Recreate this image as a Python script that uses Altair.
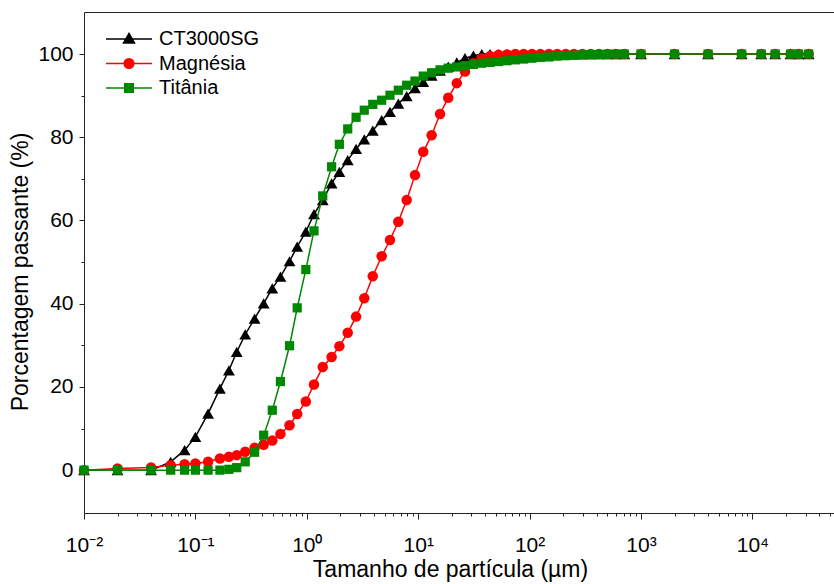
import altair as alt
import pandas as pd

# ---- data ----
SERIES = ["CT3000SG", "Magnésia", "Titânia"]
COLORS = ["#000000", "#FF0000", "#008800"]

SIZE_UM = [0.01, 0.02, 0.04, 0.06, 0.08, 0.10, 0.13, 0.166, 0.20, 0.235, 0.28, 0.34,
           0.41, 0.49, 0.58, 0.70, 0.82, 0.98, 1.16, 1.39, 1.67, 1.96, 2.33, 2.77,
           3.28, 3.91, 4.70, 5.58, 6.63, 7.88, 9.36, 11.1, 13.2, 15.7, 18.6, 22.2,
           26.3, 31.3, 37.2, 44.2, 52.6, 62.6, 74.4, 88.5, 105, 125, 149, 177,
           211, 250, 298, 354, 421, 501, 595, 708, 1000, 2000, 4000, 8000,
           12000, 16000, 22000, 26000, 32000]

CT3000SG = [0, 0, 0, 2.0, 4.8, 8.0, 13.6, 19.6, 24.0, 28.4, 32.6, 36.4,
            40.1, 43.7, 46.5, 50.2, 53.7, 57.3, 61.5, 64.9, 68.9, 71.7, 74.5, 77.2,
            79.5, 81.6, 84.1, 86.1, 88.1, 89.9, 91.8, 93.3, 94.8, 96.0, 97.0, 98.0,
            99.0, 99.6, 100, 100, 100, 100, 100, 100, 100, 100, 100, 100,
            100, 100, 100, 100, 100, 100, 100, 100, 100, 100, 100, 100,
            100, 100, 100, 100, 100]

MAGNESIA = [0, 0.4, 0.65, 1.2, 1.4, 1.6, 2.0, 2.8, 3.2, 3.6, 4.4, 5.4,
            6.1, 7.1, 8.7, 10.8, 13.5, 16.5, 20.6, 24.8, 27.2, 29.8, 33.0, 36.9,
            41.3, 46.6, 51.4, 55.3, 59.7, 64.9, 70.9, 76.5, 80.5, 85.6, 89.5, 93.0,
            95.8, 97.8, 98.9, 99.5, 99.8, 99.9, 100, 100, 100, 100, 100, 100,
            100, 100, 100, 100, 100, 100, 100, 100, 100, 100, 100, 100,
            100, 100, 100, 100, 100]

TITANIA = [0, 0, 0, 0, 0, 0, 0, 0, 0.2, 0.6, 2.0, 4.3,
           8.4, 14.4, 21.3, 29.9, 39.0, 48.2, 57.5, 65.9, 72.9, 78.3, 82.0, 84.8,
           86.5, 87.9, 88.9, 90.1, 91.3, 92.5, 93.5, 94.7, 95.5, 96.2, 96.6, 96.9,
           97.2, 97.5, 97.8, 98.0, 98.2, 98.4, 98.6, 98.8, 99.0, 99.2, 99.3, 99.5,
           99.6, 99.7, 99.8, 99.85, 99.9, 99.95, 100, 100, 100, 100, 100, 100,
           100, 100, 100, 100, 100]

X_MAJOR = [0.01, 0.1, 1, 10, 100, 1000, 10000]
Y_MAJOR = [0, 20, 40, 60, 80, 100]
Y_MINOR = [10, 30, 50, 70, 90]

# ---- styling ----
FONT = "Liberation Sans"
X_DOMAIN = [0.01, 54000]
Y_DOMAIN = [-10.3, 110.1]
X_MINOR = [k * 10.0 ** d for d in range(-2, 5) for k in range(2, 10) if k * 10.0 ** d < X_DOMAIN[1]]

SHAPES = ["triangle-up", "circle", "square"]
SIZES = [140, 110, 85]
LEGEND_PATHS = [
    "M-2.3,0H2.3M0,-0.55L0.55,0.4L-0.55,0.4Z",
    "M-2.3,0H2.3M0.48,0A0.48,0.48,0,1,1,-0.48,0A0.48,0.48,0,1,1,0.48,0Z",
    "M-2.3,0H2.3M-0.43,-0.43H0.43V0.43H-0.43Z",
]

xscale = alt.Scale(type="log", domain=X_DOMAIN, nice=False)
yscale = alt.Scale(domain=Y_DOMAIN, nice=False, zero=False)

sup = "['⁻²','⁻¹','⁰','¹','²','³','⁴'][round(log(datum.value)/LN10)+2]"

ax_x_main = alt.Axis(orient="bottom", values=X_MAJOR, labelExpr="'10' + " + sup,
                     tickSize=6, tickColor="#222222", domainColor="#222222",
                     labelFont=FONT, labelFontSize=21, labelColor="black", labelPadding=15,
                     title="Tamanho de partícula (µm)", titleFont=FONT, titleFontSize=23,
                     titleFontWeight="normal", titleColor="black", titleX=366, titleY=63,
                     titleBaseline="alphabetic", grid=False, labelFlush=False,
                     labelOverlap=False)
ax_x_minor = alt.Axis(orient="bottom", values=X_MINOR, labels=False, tickSize=3,
                      tickColor="#222222", domain=False, title=None, grid=False)
ax_x_top = alt.Axis(orient="top", labels=False, ticks=False, domain=True,
                    domainColor="#222222", title=None, grid=False)
ax_y_main = alt.Axis(orient="left", values=Y_MAJOR, tickSize=5, tickColor="#222222",
                     domainColor="#222222", labelFont=FONT, labelFontSize=21,
                     labelColor="black", labelPadding=6,
                     title="Porcentagem passante (%)", titleFont=FONT, titleFontSize=23,
                     titleFontWeight="normal", titleColor="black", titleX=-57, titleY=259.5,
                     titleBaseline="alphabetic", grid=False)
ax_y_minor = alt.Axis(orient="left", values=Y_MINOR, labels=False, tickSize=3,
                      tickColor="#222222", domain=False, title=None, grid=False)

series_vals = [CT3000SG, MAGNESIA, TITANIA]
layers = []
for i, (name, vals) in enumerate(zip(SERIES, series_vals)):
    df = pd.DataFrame({"size": SIZE_UM, "pass": vals, "Amostra": name})
    if i == 0:
        axl = (ax_x_main, ax_y_main)
        axp = (ax_x_minor, ax_y_minor)
    elif i == 1:
        axl = (ax_x_top, None)
        axp = (None, None)
    else:
        axl = (None, None)
        axp = (None, None)
    base = alt.Chart(df)
    line = base.mark_line(color=COLORS[i], strokeWidth=1.5).encode(
        x=alt.X("size:Q", scale=xscale, axis=axl[0]),
        y=alt.Y("pass:Q", scale=yscale, axis=axl[1]),
    )
    pts = base.mark_point(filled=True, opacity=1, color=COLORS[i], shape=SHAPES[i],
                          size=SIZES[i]).encode(
        x=alt.X("size:Q", scale=xscale, axis=axp[0]),
        y=alt.Y("pass:Q", scale=yscale, axis=axp[1]),
    )
    layers += [line, pts]

leg = alt.Legend(orient="none", legendX=34, legendY=16, title=None,
                 labelFont=FONT, labelFontSize=20, labelColor="black",
                 labelOffset=19, symbolSize=400, symbolStrokeWidth=1.5,
                 rowPadding=3.5, symbolOpacity=1)
legend_df = pd.DataFrame({"Amostra": SERIES})
legend_layer = alt.Chart(legend_df).mark_point(filled=True, opacity=0).encode(
    fill=alt.Fill("Amostra:N", scale=alt.Scale(domain=SERIES, range=COLORS), legend=leg),
    stroke=alt.Stroke("Amostra:N", scale=alt.Scale(domain=SERIES, range=COLORS), legend=leg),
    shape=alt.Shape("Amostra:N", scale=alt.Scale(domain=SERIES, range=LEGEND_PATHS), legend=leg),
)
layers.append(legend_layer)

chart = alt.layer(*layers).resolve_axis(x="independent", y="independent").properties(
    width=750, height=501,
    autosize=alt.AutoSizeParams(type="none"),
    padding={"left": 84, "top": 12, "right": 0, "bottom": 71},
    background="white",
).configure_view(stroke=None)

chart.save("out.html", embed_options={"renderer": "svg", "actions": False})
